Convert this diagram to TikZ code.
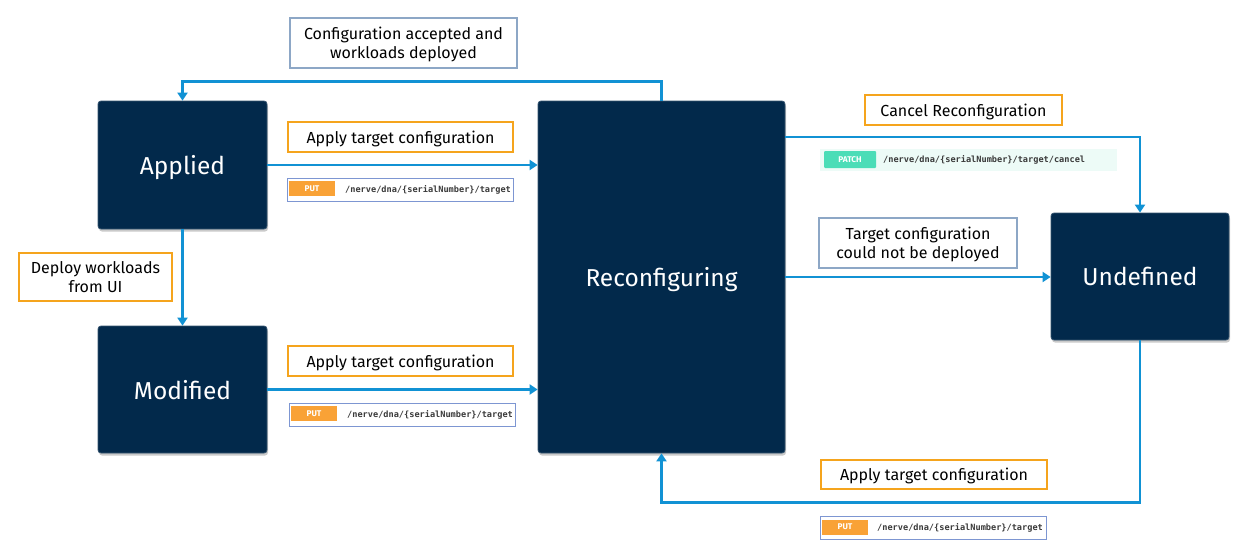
\documentclass[tikz,border=0pt]{standalone}
\usepackage{fontspec}
\setmainfont{Fira Sans}
\setmonofont{DejaVu Sans Mono}
\usetikzlibrary{arrows.meta,shadows}
\definecolor{navy}{HTML}{02294B}
\definecolor{flow}{HTML}{1192D4}
\definecolor{amber}{HTML}{F5A41D}
\definecolor{slate}{HTML}{8DA7C6}
\definecolor{putfill}{HTML}{F9A236}
\definecolor{badgeline}{HTML}{7D96D2}
\definecolor{teal}{HTML}{4BDDB7}
\definecolor{mint}{HTML}{EDFBF7}
\definecolor{monotext}{HTML}{3A3A3A}
\begin{document}
\begin{tikzpicture}[x=1pt,y=-1pt,
  state/.style={fill=navy, draw=navy!80!white, line width=0.8pt, rounded corners=3pt,
    text=white, font=\fontsize{24.5}{28}\selectfont, text depth=0pt,
    drop shadow={shadow xshift=1pt, shadow yshift=-2.5pt, opacity=0.35, fill=black!60}},
  conn/.style={draw=flow, line width=2.8pt, -{Triangle[length=8pt,width=10pt]}},
  olabel/.style={draw=amber, line width=2.4pt, fill=white, font=\fontsize{16}{19}\selectfont, align=center, inner sep=0pt, text depth=0pt},
  glabel/.style={draw=slate, line width=2.4pt, fill=white, font=\fontsize{16}{19}\selectfont, align=center, inner sep=0pt, text depth=0pt},
  badge/.style={draw=badgeline, line width=0.8pt, fill=white, minimum width=226pt, minimum height=23pt, inner sep=0pt},
  verb/.style={fill=putfill, text=white, font=\fontsize{8.3}{10}\selectfont\bfseries, inner sep=0pt, minimum height=15pt},
  apipath/.style={anchor=west, inner sep=0pt, text=monotext, font=\ttfamily\bfseries\fontsize{8.6}{10}\selectfont}
]
\useasboundingbox (0,0) rectangle (1248,557);

% states
\node[state, minimum width=169pt, minimum height=128pt] (applied) at (182.5,165) {Applied};
\node[state, minimum width=169pt, minimum height=127pt] (modified) at (182.5,389.5) {Modified};
\node[state, minimum width=247pt, minimum height=352pt] (recon) at (661.5,277) {Reconfiguring};
\node[state, minimum width=178pt, minimum height=127pt] (undef) at (1140,276.5) {Undefined};

% connectors
\draw[conn] (recon.north) -- ++(0,-19) -| (applied.north);
\draw[conn] (applied.east) -- (applied.east -| recon.west);
\draw[conn] (applied.south) -- (modified.north);
\draw[conn] (modified.east) -- (modified.east -| recon.west);
\draw[conn] ([yshift=140pt]recon.east) -| (undef.north);
\draw[conn] (recon.east) -- (recon.east -| undef.west);
\draw[conn] (undef.south) -- ++(0,162) -| (recon.south);

% labels
\node[glabel, minimum width=227pt, minimum height=50pt] (lacc) at (403.5,43) {Configuration accepted and\\workloads deployed};
\node[olabel, minimum width=225pt, minimum height=30pt] (lapp1) at (400.5,137) {Apply target configuration};
\node[olabel, minimum width=153pt, minimum height=48pt] (ldeploy) at (95.5,277) {Deploy workloads\\from UI};
\node[olabel, minimum width=225pt, minimum height=30pt] (lapp2) at (400.5,361) {Apply target configuration};
\node[olabel, minimum width=197pt, minimum height=30pt] (lcancel) at (963.5,110) {Cancel Reconfiguration};
\node[glabel, minimum width=198pt, minimum height=50pt] (lfail) at (918,243) {Target configuration\\could not be deployed};
\node[olabel, minimum width=226pt, minimum height=29pt] (lapp3) at (934,474.5) {Apply target configuration};

% API badges
\node[badge] (b1) at (400,189.5) {};
\node[verb, minimum width=46pt] (b1v) at (312,188.5) {PUT};
\node[apipath] (b1p) at (345,189.5) {/nerve/dna/\{serialNumber\}/target};

\node[badge] (b2) at (402,415) {};
\node[verb, minimum width=46pt] (b2v) at (314,413.5) {PUT};
\node[apipath] (b2p) at (347,415) {/nerve/dna/\{serialNumber\}/target};

\node[badge] (b3) at (933,528) {};
\node[verb, minimum width=46pt] (b3v) at (845,527) {PUT};
\node[apipath] (b3p) at (877,528) {/nerve/dna/\{serialNumber\}/target};

\node[fill=mint, minimum width=297pt, minimum height=22pt, inner sep=0pt] (b4) at (968.5,160) {};
\node[verb, fill=teal, minimum width=52pt, minimum height=17pt, rounded corners=1pt] (b4v) at (850,159.5) {PATCH};
\node[apipath] (b4p) at (883,160) {/nerve/dna/\{serialNumber\}/target/cancel};
\end{tikzpicture}
\end{document}
